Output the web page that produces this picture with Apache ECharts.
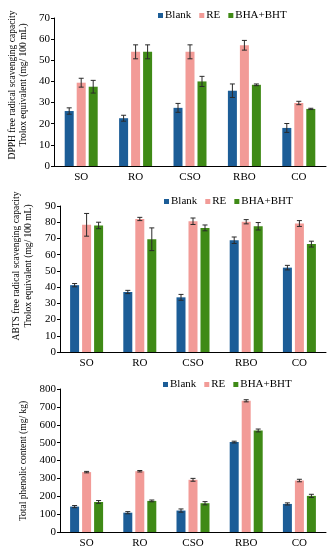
<!DOCTYPE html>
<html><head><meta charset="utf-8">
<script src="https://cdn.jsdelivr.net/npm/echarts@6/dist/echarts.min.js"></script>
<style>html,body{margin:0;padding:0;background:#fff}#c{width:336px;height:550px}</style>
</head><body><div id="c"></div>
<script>
var categories = ['SO', 'RO', 'CSO', 'RBO', 'CO'];
var seriesNames = ['Blank', 'RE', 'BHA+BHT'];

// Panel 1: DPPH
var dpphBlank = [26, 22.6, 27.5, 35.6, 18];
var dpphRE = [39.4, 54, 54, 57.1, 29.8];
var dpphBHA = [37.5, 54, 40, 38.4, 27];
var dpphBlankErr = [1.5, 1.4, 2.1, 3.2, 2.1];
var dpphREErr = [2.1, 3.3, 3.3, 2.3, 0.8];
var dpphBHAErr = [3, 3.3, 2.4, 0.4, 0.3];

// Panel 2: ABTS
var abtsBlank = [41.2, 37, 33.7, 68.9, 52];
var abtsRE = [78.4, 82, 80.6, 80.3, 79.2];
var abtsBHA = [78, 69.5, 76.5, 77.5, 66.5];
var abtsBlankErr = [1, 1, 1.8, 2, 1.4];
var abtsREErr = [7, 1, 2, 1.3, 1.8];
var abtsBHAErr = [2, 7, 1.8, 2.3, 1.8];

// Panel 3: Total phenolic
var tpcBlank = [142, 108, 120, 503, 157];
var tpcRE = [335, 340, 292, 734, 288];
var tpcBHA = [168, 174, 161, 568, 202];
var tpcBlankErr = [6, 6, 9, 5, 6];
var tpcREErr = [4, 4, 8, 6, 7];
var tpcBHAErr = [8, 5, 9, 8, 9];

var yTitles = [
  'DPPH free radical scavenging capacity\nTrolox equivalent (mg/ 100 mL)',
  'ABTS free radical scavenging capacity\nTrolox equivalent (mg/ 100 mL)',
  'Total phenolic content (mg/ kg)'
];
var yMax = [70, 90, 800];
var yInterval = [10, 10, 100];

var colors = ['#1c5d97', '#f29b97', '#3f8a16'];
var FONT = 'Liberation Serif';
var BAR_W = 9, BAR_GAP = 3;

var panels = [
  {vals: [dpphBlank, dpphRE, dpphBHA], errs: [dpphBlankErr, dpphREErr, dpphBHAErr]},
  {vals: [abtsBlank, abtsRE, abtsBHA], errs: [abtsBlankErr, abtsREErr, abtsBHAErr]},
  {vals: [tpcBlank, tpcRE, tpcBHA], errs: [tpcBlankErr, tpcREErr, tpcBHAErr]}
];

var grids = [
  {left: 54, right: 10, top: 18, height: 148},
  {left: 60, right: 10, top: 206, height: 146},
  {left: 60, right: 10, top: 389, height: 143}
];
var legendPos = [
  {left: 153, top: 5},
  {left: 159, top: 191},
  {left: 158, top: 374}
];
var titlePos = [
  {x: 17.5, y: 85, size: 9.5, lh: 11},
  {x: 22, y: 266, size: 9.5, lh: 12},
  {x: 23, y: 461, size: 9.5, lh: 11}
];

var chart = echarts.init(document.getElementById('c'), null, {renderer: 'canvas'});

var xAxes = [], yAxes = [], series = [], legends = [], graphics = [];
panels.forEach(function (p, pi) {
  xAxes.push({
    type: 'category', gridIndex: pi, data: categories,
    axisLine: {lineStyle: {color: '#000', width: 1}},
    axisTick: {show: false},
    axisLabel: {color: '#000', fontFamily: FONT, fontSize: 11, margin: 6}
  });
  yAxes.push({
    type: 'value', gridIndex: pi, min: 0, max: yMax[pi], interval: yInterval[pi],
    axisLine: {show: true, lineStyle: {color: '#000', width: 1}},
    axisTick: {show: true, length: 3, lineStyle: {color: '#000'}},
    splitLine: {show: false},
    axisLabel: {color: '#000', fontFamily: FONT, fontSize: 11, margin: 4}
  });
  graphics.push({
    type: 'text', x: titlePos[pi].x, y: titlePos[pi].y, rotation: Math.PI / 2,
    style: {text: yTitles[pi], fill: '#000', font: titlePos[pi].size + 'px ' + FONT,
      lineHeight: titlePos[pi].lh, textAlign: 'center', textVerticalAlign: 'middle'}
  });
  legends.push({
    left: legendPos[pi].left, top: legendPos[pi].top,
    data: seriesNames.map(function (n) { return {name: n}; }),
    icon: 'rect', itemWidth: 5, itemHeight: 5, itemGap: 8,
    textStyle: {color: '#000', fontFamily: FONT, fontSize: 11, padding: [0, 0, 0, -3]},
    selectedMode: false
  });
  seriesNames.forEach(function (name, si) {
    series.push({
      type: 'bar', name: name, xAxisIndex: pi, yAxisIndex: pi,
      data: p.vals[si], barWidth: BAR_W, barGap: (BAR_GAP / BAR_W * 100) + '%',
      itemStyle: {color: colors[si]}, animation: false
    });
  });
  seriesNames.forEach(function (name, si) {
    var data = p.vals[si].map(function (v, i) { return [i, v, p.errs[si][i]]; });
    series.push({
      type: 'custom', xAxisIndex: pi, yAxisIndex: pi, animation: false, silent: true,
      data: data, z: 5,
      renderItem: function (params, api) {
        var ci = api.value(0), v = api.value(1), e = api.value(2);
        var off = (si - 1) * (BAR_W + BAR_GAP);
        var hi = api.coord([ci, v + e]);
        var lo = api.coord([ci, v - e]);
        var x = hi[0] + off;
        var cap = 2.5;
        var st = {stroke: '#2a2a2a', lineWidth: 1};
        return {type: 'group', children: [
          {type: 'line', shape: {x1: x, y1: hi[1], x2: x, y2: lo[1]}, style: st},
          {type: 'line', shape: {x1: x - cap, y1: hi[1], x2: x + cap, y2: hi[1]}, style: st},
          {type: 'line', shape: {x1: x - cap, y1: lo[1], x2: x + cap, y2: lo[1]}, style: st}
        ]};
      }
    });
  });
});

chart.setOption({
  animation: false,
  grid: grids,
  xAxis: xAxes,
  yAxis: yAxes,
  legend: legends,
  graphic: graphics,
  series: series
});
</script>
</body></html>
